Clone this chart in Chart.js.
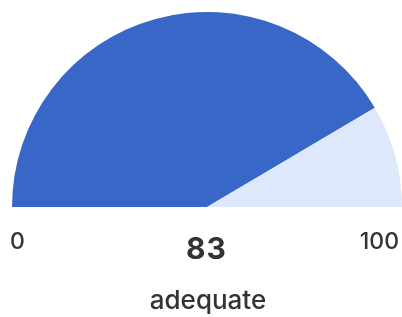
<!DOCTYPE html>
<html>
<head>
<meta charset="utf-8">
<script src="https://cdn.jsdelivr.net/npm/chart.js@4/dist/chart.umd.min.js"></script>
<style>
  body { margin: 0; background: #fff; }
  #wrap { position: relative; width: 402px; height: 317px; font-family: 'Inter', 'Open Sans', sans-serif; color: #333; }
  #wrap canvas { position: absolute; left: 0; top: 0; }
  .lbl { position: absolute; line-height: 1; white-space: nowrap; }
  #minLbl { left: 10px; top: 230px; font-size: 23px; font-weight: 500; }
  #maxLbl { right: 3px; top: 230px; font-size: 23px; font-weight: 500; }
  #valLbl { left: 0; width: 413px; text-align: center; top: 233px; font-size: 30px; font-weight: 700; letter-spacing: 1px; }
  #rateLbl { left: 0; width: 416px; text-align: center; top: 287px; font-size: 26px; font-weight: 500; }
</style>
</head>
<body>
<div id="wrap">
  <canvas id="gauge" width="402" height="317"></canvas>
  <div class="lbl" id="minLbl"></div>
  <div class="lbl" id="maxLbl"></div>
  <div class="lbl" id="valLbl"></div>
  <div class="lbl" id="rateLbl"></div>
</div>
<script>
const score = 83;
const scaleMin = 0;
const scaleMax = 100;
const tickLabels = ['0', '100'];
const rating = 'adequate';
const segmentLabels = ['score', 'rest'];
const segmentValues = [score - scaleMin, scaleMax - score];

document.getElementById('minLbl').textContent = tickLabels[0];
document.getElementById('maxLbl').textContent = tickLabels[1];
document.getElementById('valLbl').textContent = score;
document.getElementById('rateLbl').textContent = rating;

const ctx = document.getElementById('gauge').getContext('2d');
const chart = new Chart(ctx, {
  type: 'doughnut',
  data: {
    labels: segmentLabels,
    datasets: [{
      data: segmentValues,
      backgroundColor: ['#3867c8', '#dde8fb'],
      borderWidth: 0
    }]
  },
  options: {
    responsive: false,
    animation: false,
    rotation: -90,
    circumference: 180,
    cutout: 0,
    layout: { padding: { left: 12, right: 0, top: 12, bottom: 110 } },
    plugins: {
      legend: { display: false },
      tooltip: { enabled: false }
    }
  }
});
</script>
</body>
</html>
